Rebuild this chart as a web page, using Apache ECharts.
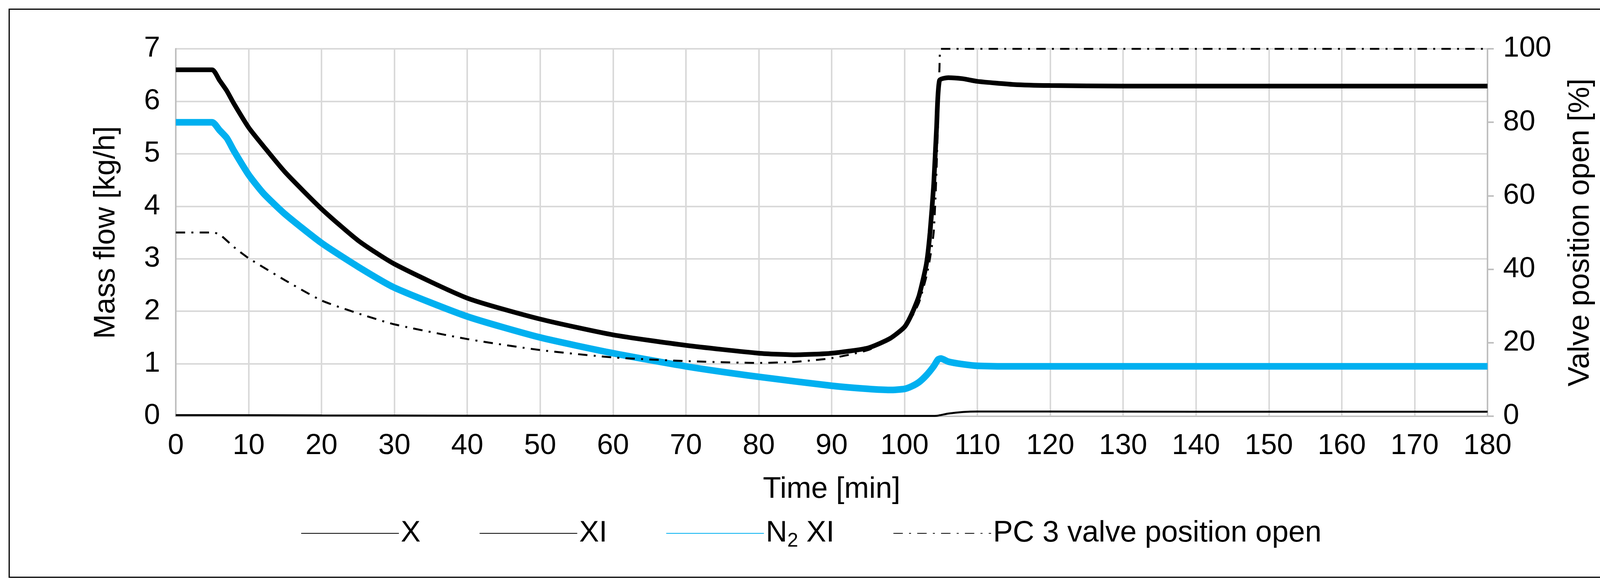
<!DOCTYPE html>
<html><head><meta charset="utf-8">
<script src="https://cdn.jsdelivr.net/npm/echarts@6/dist/echarts.min.js"></script>
<style>html,body{margin:0;padding:0;background:#fff}#c{width:4153px;height:1506px}
#b{position:absolute;left:22px;top:22px;width:4108px;height:1458px;border:3px solid #000;box-sizing:border-box;pointer-events:none}</style>
</head><body><div id="c"></div><div id="b"></div>
<script>
const tX = [0,5,20,40,60,80,100,103,104.5,106,108,110,120,140,180];
const vX = [0.02,0.02,0.015,0.01,0.008,0.006,0.005,0.005,0.01,0.05,0.08,0.09,0.09,0.085,0.085];
const tXI = [0,5,6,7,8,10,12,15,20,25,30,40,50,60,70,80,85,90,95,98,100,101,102,103,103.5,104,104.4,104.8,106,108,110,115,120,130,180];
const vXI = [6.6,6.6,6.4,6.2,5.95,5.5,5.15,4.65,3.95,3.35,2.9,2.25,1.85,1.55,1.35,1.2,1.17,1.2,1.3,1.48,1.7,1.95,2.3,2.9,3.5,4.4,5.5,6.4,6.45,6.43,6.38,6.32,6.3,6.29,6.29];
const tN2 = [0,5,6,7,8,10,12,15,20,25,30,40,50,60,70,80,90,95,98,100,101,102,103,104,104.6,105,106,108,110,115,120,180];
const vN2 = [5.6,5.6,5.45,5.3,5.05,4.6,4.25,3.85,3.3,2.85,2.45,1.9,1.5,1.2,0.95,0.75,0.58,0.52,0.5,0.52,0.57,0.65,0.78,0.95,1.08,1.1,1.04,0.99,0.96,0.95,0.95,0.95];
const tPC = [0,5,6,8,10,15,20,25,30,40,50,60,70,80,85,90,95,98,100,101,102,103,103.5,104,104.3,104.6,104.8,105,180];
const vPC = [50,50,49.5,46,43,37,31.5,28,25,21,18,16,15,14.5,14.8,15.8,18,21,24,27,31,38,43,50,62,80,95,100,100];
const pairs = (t,v) => t.map((x,i)=>[x,v[i]]);
const F = 'Liberation Sans, Arial, sans-serif';
const ch = echarts.init(document.getElementById('c'));
const noSym = {opacity:0};
ch.setOption({
  animation:false,
  grid:{left:450,right:345,top:125,bottom:440,containLabel:false},
  xAxis:{type:'value',min:0,max:180,interval:10,name:'Time [min]',nameLocation:'middle',nameGap:150,
    nameTextStyle:{fontFamily:F,fontSize:76,color:'#000'},
    axisLine:{show:true,lineStyle:{color:'#bfbfbf',width:3}},axisTick:{show:false},
    axisLabel:{fontFamily:F,fontSize:74,color:'#000',margin:40},
    splitLine:{show:true,lineStyle:{color:'#d9d9d9',width:4}}},
  yAxis:[{type:'value',min:0,max:7,interval:1,name:'Mass flow [kg/h]',nameLocation:'middle',nameGap:140,
    nameTextStyle:{fontFamily:F,fontSize:76,color:'#000'},
    axisLine:{show:true,lineStyle:{color:'#bfbfbf',width:4}},axisTick:{show:false},
    axisLabel:{fontFamily:F,fontSize:74,color:'#000',margin:40},
    splitLine:{show:true,lineStyle:{color:'#d9d9d9',width:4}}},
   {type:'value',min:0,max:100,interval:20,position:'right',name:'Valve position open [%]',nameLocation:'middle',nameGap:200,nameRotate:90,
    nameTextStyle:{fontFamily:F,fontSize:76,color:'#000'},
    axisLine:{show:true,lineStyle:{color:'#bfbfbf',width:4}},axisTick:{show:true,length:16,lineStyle:{color:'#bfbfbf',width:4}},
    axisLabel:{fontFamily:F,fontSize:74,color:'#000',margin:40},splitLine:{show:false}}],
  legend:{bottom:90,left:'center',itemWidth:250,itemHeight:30,itemGap:150,
    textStyle:{fontFamily:F,fontSize:76,color:'#000',rich:{s:{fontFamily:F,fontSize:50,color:'#000',padding:[40,0,0,0]}}},
    formatter:n=>n==='N2 XI'?'N{s|2} XI':n,
    data:[{name:'X',itemStyle:noSym},{name:'XI',itemStyle:noSym},{name:'N2 XI',itemStyle:noSym},{name:'PC 3 valve position open',itemStyle:noSym}]},
  series:[
    {name:'X',type:'line',showSymbol:false,symbol:'none',smooth:0.2,data:pairs(tX,vX),lineStyle:{color:'#000',width:5},itemStyle:{color:'#000'}},
    {name:'XI',type:'line',showSymbol:false,symbol:'none',smooth:0.2,data:pairs(tXI,vXI),lineStyle:{color:'#000',width:12},itemStyle:{color:'#000'},z:3},
    {name:'N2 XI',type:'line',showSymbol:false,symbol:'none',smooth:0.2,data:pairs(tN2,vN2),lineStyle:{color:'#00B0F0',width:17},itemStyle:{color:'#00B0F0'},z:2},
    {name:'PC 3 valve position open',type:'line',yAxisIndex:1,showSymbol:false,symbol:'none',smooth:0.2,data:pairs(tPC,vPC),
      lineStyle:{color:'#000',width:5,type:[24,16,5,16]},itemStyle:{color:'#000'},z:4}
  ]
});
</script></body></html>
